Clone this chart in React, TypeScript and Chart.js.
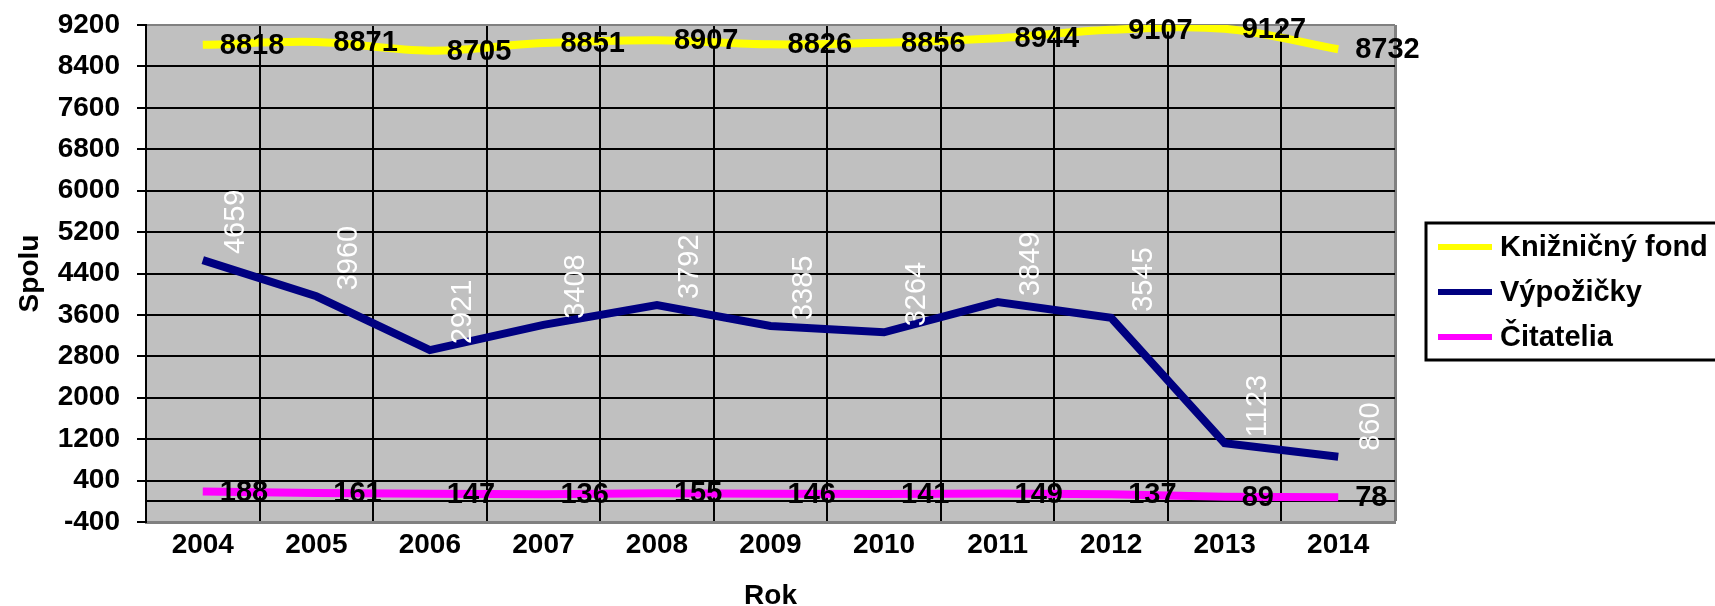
import React, { useEffect, useRef } from "react";
import { Chart, registerables } from "chart.js";

Chart.register(...registerables);

const FONT = "'Liberation Sans', Arial, Helvetica, sans-serif";

const years = ["2004", "2005", "2006", "2007", "2008", "2009", "2010", "2011", "2012", "2013", "2014"];
const kniznicnyFond = [8818, 8871, 8705, 8851, 8907, 8826, 8856, 8944, 9107, 9127, 8732];
const vypozicky = [4659, 3960, 2921, 3408, 3792, 3385, 3264, 3849, 3545, 1123, 860];
const citatelia = [188, 161, 147, 136, 155, 146, 141, 149, 137, 89, 78];
const seriesNames = ["Knižničný fond", "Výpožičky", "Čitatelia"];
const seriesColors = ["#FFFF00", "#000080", "#FF00FF"];
const yMin = -400;
const yMax = 9200;
const yStep = 800;
const yTitle = "Spolu";
const xTitle = "Rok";

const plotBackground = {
  id: "plotBackground",
  beforeDraw(chart: any) {
    const { ctx, chartArea: a } = chart;
    ctx.save();
    ctx.fillStyle = "#C0C0C0";
    ctx.fillRect(a.left, a.top, a.right - a.left, a.bottom - a.top);
    ctx.restore();
  },
  beforeDatasetsDraw(chart: any) {
    const { ctx, chartArea: a, scales } = chart;
    const y0 = Math.round(scales.y.getPixelForValue(0));
    ctx.save();
    ctx.strokeStyle = "#000";
    ctx.lineWidth = 2;
    ctx.beginPath();
    ctx.moveTo(a.left, y0);
    ctx.lineTo(a.right, y0);
    ctx.stroke();
    ctx.restore();
  },
};

const valueLabels = {
  id: "valueLabels",
  afterDatasetsDraw(chart: any) {
    const { ctx } = chart;
    chart.data.datasets.forEach((ds: any, i: number) => {
      const meta = chart.getDatasetMeta(i);
      meta.data.forEach((pt: any, j: number) => {
        const v = ds.data[j];
        ctx.save();
        if (i === 1) {
          ctx.fillStyle = "#FFFFFF";
          ctx.font = `normal 29px ${FONT}`;
          ctx.textAlign = "left";
          ctx.textBaseline = "middle";
          ctx.translate(pt.x + 33, pt.y - 6);
          ctx.rotate(-Math.PI / 2);
          ctx.fillText(String(v), 0, 0);
        } else {
          ctx.fillStyle = "#000000";
          ctx.font = `bold 29px ${FONT}`;
          ctx.textAlign = "left";
          ctx.textBaseline = "middle";
          ctx.fillText(String(v), pt.x + 17, pt.y + 1);
        }
        ctx.restore();
      });
    });
  },
};

const boxLegend = {
  id: "boxLegend",
  afterDraw(chart: any) {
    const { ctx, chartArea: a } = chart;
    const bx = a.right + 31;
    const by = a.top + 198;
    const bh = 137;
    ctx.save();
    ctx.fillStyle = "#FFFFFF";
    ctx.fillRect(bx, by, 500, bh);
    ctx.lineWidth = 3;
    ctx.strokeStyle = "#000";
    ctx.strokeRect(bx, by, 500, bh);
    chart.data.datasets.forEach((ds: any, i: number) => {
      const cy = by + 24 + i * 45;
      ctx.strokeStyle = ds.borderColor;
      ctx.lineWidth = 6;
      ctx.beginPath();
      ctx.moveTo(bx + 12, cy);
      ctx.lineTo(bx + 66, cy);
      ctx.stroke();
      ctx.fillStyle = "#000";
      ctx.font = `bold 29px ${FONT}`;
      ctx.textAlign = "left";
      ctx.textBaseline = "middle";
      ctx.fillText(ds.label, bx + 74, cy + 1);
    });
    ctx.restore();
  },
};

export default function App() {
  const ref = useRef<HTMLCanvasElement | null>(null);

  useEffect(() => {
    if (!ref.current) return;
    Chart.defaults.font.family = FONT;
    const series = [kniznicnyFond, vypozicky, citatelia];
    const chart = new Chart(ref.current, {
      type: "line",
      data: {
        labels: years,
        datasets: series.map((d, i) => ({
          label: seriesNames[i],
          data: d,
          borderColor: seriesColors[i],
          backgroundColor: seriesColors[i],
          borderWidth: 8,
          pointRadius: 0,
          tension: i === 0 ? 0.35 : 0,
          fill: false,
        })),
      },
      options: {
        responsive: false,
        animation: false,
        devicePixelRatio: 1,
        layout: { padding: { top: 25, right: 320, left: 0, bottom: 0 } },
        plugins: {
          legend: { display: false },
          tooltip: { enabled: false },
        },
        scales: {
          x: {
            type: "category",
            offset: true,
            afterFit(s: any) {
              s.height = 84;
            },
            ticks: {
              color: "#000",
              font: { family: FONT, size: 28, weight: "bold" },
              padding: 6,
              autoSkip: false,
              maxRotation: 0,
            },
            grid: {
              offset: true,
              drawTicks: false,
              color: (c: any) => (c.type === "tick" ? "#000" : "#808080"),
              lineWidth: (c: any) => (c.type === "tick" ? 2 : 3),
            },
            border: { display: true, color: "#808080", width: 3 },
            title: {
              display: true,
              text: xTitle,
              color: "#000",
              font: { family: FONT, size: 28, weight: "bold" },
              padding: { top: 0, bottom: -7 },
            },
          },
          y: {
            min: yMin,
            max: yMax,
            afterFit(s: any) {
              s.width = 146;
              s.paddingTop = 0;
              s.paddingBottom = 0;
            },
            ticks: {
              stepSize: yStep,
              color: "#000",
              font: { family: FONT, size: 28, weight: "bold" },
              padding: 17,
              autoSkip: false,
              callback: (v: any) => String(v),
            },
            grid: {
              color: (c: any) =>
                c.tick && (c.tick.value === yMax || c.tick.value === yMin) ? "#808080" : "#000",
              lineWidth: 2,
              tickLength: 9,
              tickColor: "#000",
              tickWidth: 2,
            },
            border: { display: true, color: "#000", width: 2 },
            title: {
              display: true,
              text: yTitle,
              color: "#000",
              font: { family: FONT, size: 28, weight: "bold" },
              padding: { top: 13, bottom: 0 },
            },
          },
        },
      },
      plugins: [plotBackground, valueLabels, boxLegend],
    });
    return () => chart.destroy();
  }, []);

  return (
    <div style={{ position: "fixed", left: 0, top: 0, width: 1715, height: 606, background: "#fff" }}>
      <canvas ref={ref} width={1715} height={606} style={{ display: "block" }} />
    </div>
  );
}
